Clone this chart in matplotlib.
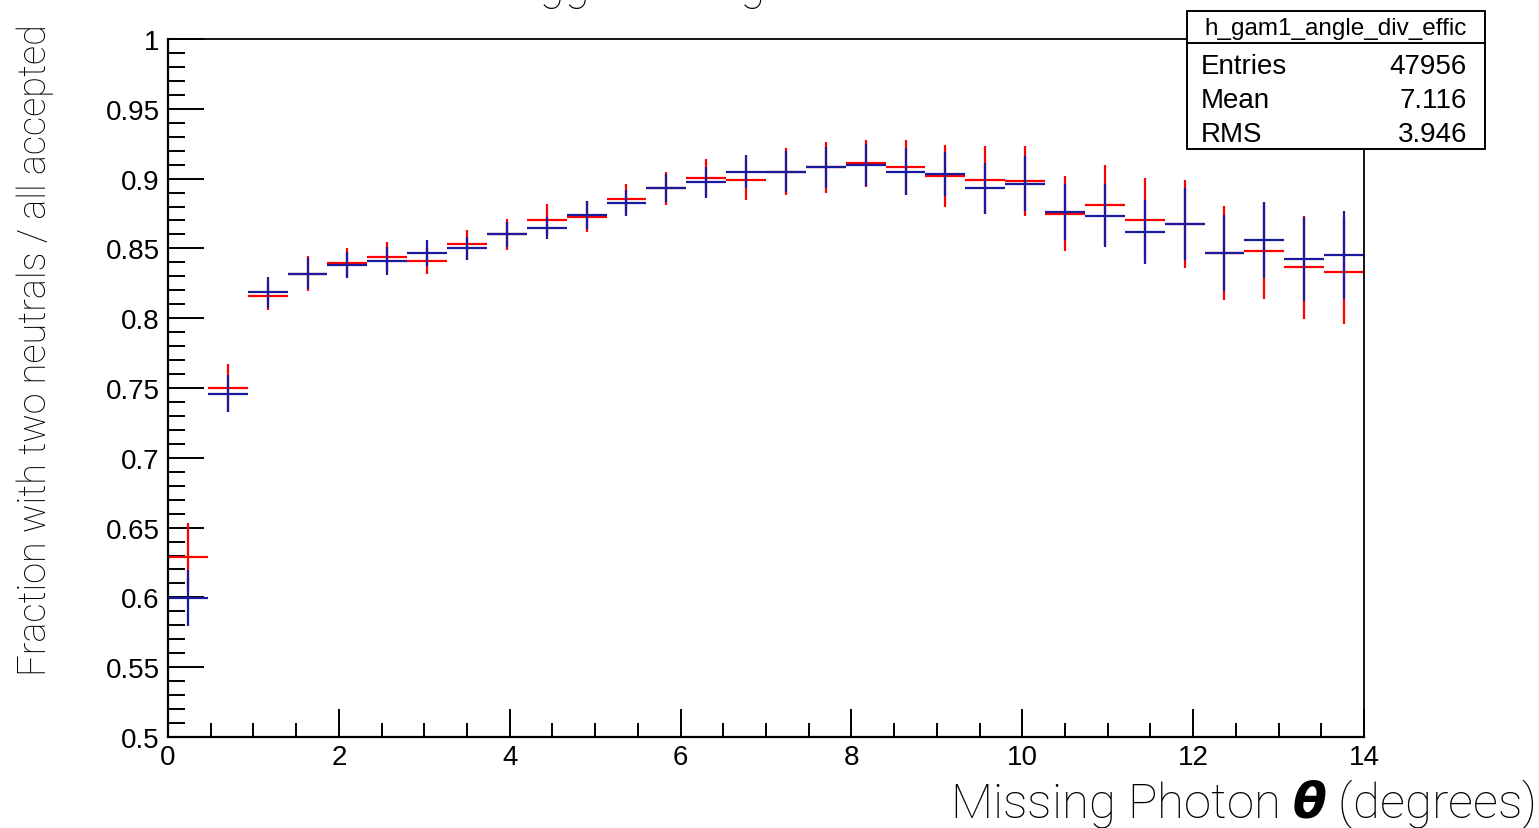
import numpy as np
import matplotlib
matplotlib.use("Agg")
import matplotlib.pyplot as plt
from matplotlib.ticker import MultipleLocator, FuncFormatter
from matplotlib.patches import Rectangle
from matplotlib.lines import Line2D

# histogram binning: 30 bins from 0 to 14 degrees
x_lo, x_hi, n_bins = 0.0, 14.0, 30

# red series (drawn first)
red_vals = [0.629, 0.750, 0.816, 0.832, 0.8395, 0.8438, 0.841, 0.853, 0.860, 0.8706,
            0.8727, 0.8854, 0.893, 0.9004, 0.899, 0.905, 0.908, 0.911, 0.908, 0.902,
            0.899, 0.898, 0.875, 0.881, 0.8706, 0.8675, 0.8467, 0.8484, 0.8365, 0.8333]
red_errs = [0.024, 0.017, 0.010, 0.0125, 0.011, 0.011, 0.0095, 0.0105, 0.011, 0.011,
            0.011, 0.011, 0.012, 0.0136, 0.014, 0.0167, 0.018, 0.0167, 0.0198, 0.022,
            0.024, 0.025, 0.027, 0.029, 0.030, 0.0317, 0.034, 0.0345, 0.037, 0.0375]

# blue series (drawn on top)
blue_vals = [0.5996, 0.746, 0.8185, 0.832, 0.838, 0.841, 0.8467, 0.850, 0.860, 0.8646,
             0.8739, 0.8825, 0.893, 0.8973, 0.905, 0.905, 0.908, 0.910, 0.905, 0.9033,
             0.893, 0.8964, 0.876, 0.8734, 0.8615, 0.8675, 0.8467, 0.856, 0.8424, 0.8453]
blue_errs = [0.020, 0.013, 0.011, 0.011, 0.0095, 0.010, 0.0095, 0.008, 0.009, 0.008,
             0.010, 0.0095, 0.010, 0.011, 0.012, 0.0145, 0.0148, 0.015, 0.0167, 0.016,
             0.0184, 0.0195, 0.020, 0.0227, 0.023, 0.026, 0.027, 0.027, 0.030, 0.0317]

stats_name = "h_gam1_angle_div_effic"
stats_rows = [("Entries", "47956"), ("Mean", "7.116"), ("RMS", "3.946")]

edges = np.linspace(x_lo, x_hi, n_bins + 1)
centers = 0.5 * (edges[:-1] + edges[1:])
half_w = 0.5 * (edges[1] - edges[0])

W, H = 1539, 829
fig = plt.figure(figsize=(W / 100, H / 100), dpi=100)
ax = fig.add_axes([168 / W, (H - 738) / H, (1364 - 168) / W, (738 - 40) / H])

tick_font = "Liberation Sans"
label_font = ["Roboto", "DejaVu Sans"]

ax.errorbar(centers, red_vals, xerr=half_w, yerr=red_errs, fmt="none",
            ecolor="#ff0000", elinewidth=1.6, capsize=0)
ax.errorbar(centers, blue_vals, xerr=half_w, yerr=blue_errs, fmt="none",
            ecolor="#1a1a9e", elinewidth=1.6, capsize=0)

ax.set_xlim(x_lo, x_hi)
ax.set_ylim(0.5, 1.0)
ax.xaxis.set_major_locator(MultipleLocator(2))
ax.xaxis.set_minor_locator(MultipleLocator(0.5))
ax.yaxis.set_major_locator(MultipleLocator(0.05))
ax.yaxis.set_minor_locator(MultipleLocator(0.01))
ax.yaxis.set_major_formatter(FuncFormatter(lambda v, p: "%g" % round(v, 3)))

ax.tick_params(which="both", direction="in", top=False, right=False, width=1.4, color="black")
ax.tick_params(axis="y", which="major", length=26, pad=6)
ax.tick_params(axis="y", which="minor", length=12.5)
ax.tick_params(axis="x", which="major", length=20, pad=5)
ax.tick_params(axis="x", which="minor", length=10)
for lab in ax.get_xticklabels() + ax.get_yticklabels():
    lab.set_fontfamily(tick_font)
    lab.set_fontsize(20)

for s in ["left", "bottom"]:
    ax.spines[s].set_linewidth(1.6)
for s in ["top", "right"]:
    ax.spines[s].set_linewidth(1.3)

plt.rcParams["mathtext.fontset"] = "custom"
plt.rcParams["mathtext.bf"] = "DejaVu Sans:bold:italic"

fig.text(1535 / W, 1 - 818 / H, r"Missing Photon $\mathbf{\theta}$ (degrees)",
         ha="right", va="baseline", fontsize=35.5, fontweight="light", family=label_font)
fig.text(46 / W, 1 - 350 / H, "Fraction with two neutrals / all accepted",
         rotation=90, ha="center", va="baseline", fontsize=27.3, fontweight="light",
         family=label_font, rotation_mode="anchor")

# title, mostly above the canvas
fig.text(487 / W, 1.0, "Triggered Angle", ha="left", va="baseline",
         fontsize=33, fontweight="light", family=label_font)

# stats box
bx0, bx1, by0, by1, bsep = 1187, 1485, 12, 150, 44
fig.patches.append(Rectangle((bx0 / W, 1 - by1 / H), (bx1 - bx0) / W, (by1 - by0) / H,
                             transform=fig.transFigure, facecolor="white",
                             edgecolor="black", linewidth=1.4, zorder=10))
fig.lines.append(Line2D([bx0 / W, bx1 / W], [1 - bsep / H, 1 - bsep / H],
                        transform=fig.transFigure, color="black", linewidth=1.4, zorder=11))
fig.text((bx0 + bx1) / 2 / W, 1 - 35 / H, stats_name, ha="center", va="baseline",
         fontsize=17.5, family=tick_font, zorder=12)
for i, (k, v) in enumerate(stats_rows):
    yb = 1 - (74 + 34 * i) / H
    fig.text(1201 / W, yb, k, ha="left", va="baseline", fontsize=20, family=tick_font, zorder=12)
    fig.text(1467 / W, yb, v, ha="right", va="baseline", fontsize=20, family=tick_font, zorder=12)

fig.savefig("out.png", dpi=100)
